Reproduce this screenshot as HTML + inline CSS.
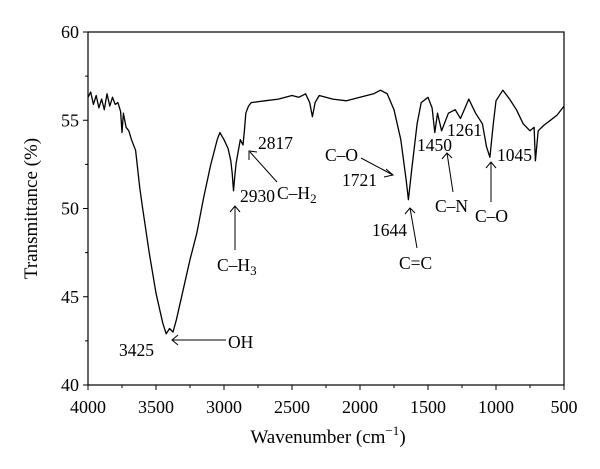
<!DOCTYPE html>
<html><head><meta charset="utf-8"><style>
body{margin:0;background:#fff}
svg{display:block;font-family:"Liberation Serif",serif}
</style></head><body>
<svg id="chart" width="600" height="469" viewBox="0 0 600 469" xmlns="http://www.w3.org/2000/svg">
<g id="axes"></g>
<path id="spectrum" fill="none" stroke="#000" stroke-width="1.3" stroke-linejoin="round"/>
<g id="ann" font-size="17.5" fill="#000">
<text x="258" y="149">2817</text>
<text x="240" y="202">2930</text>
<text x="277" y="199">C–H<tspan font-size="13" dy="4">2</tspan></text>
<line x1="277" y1="182" x2="250" y2="152" stroke="#000"/>
<polyline points="249,160 249,151 257,152" fill="none" stroke="#000"/>
<text x="217" y="271">C–H<tspan font-size="13" dy="4">3</tspan></text>
<line x1="235" y1="250" x2="235" y2="206" stroke="#000"/>
<polyline points="230,212 235,206 240,212" fill="none" stroke="#000"/>
<text x="228" y="348">OH</text>
<line x1="226" y1="340" x2="172" y2="340" stroke="#000"/>
<polyline points="178,335 172,340 178,345" fill="none" stroke="#000"/>
<text x="119" y="356">3425</text>
<text x="325" y="161">C–O</text>
<line x1="361" y1="158" x2="393" y2="175" stroke="#000"/>
<polyline points="386,169 393,175 384,177" fill="none" stroke="#000"/>
<text x="342" y="186">1721</text>
<text x="372" y="236">1644</text>
<line x1="417" y1="248" x2="410" y2="208" stroke="#000"/>
<polyline points="405,214 410,208 415,213" fill="none" stroke="#000"/>
<text x="399" y="269">C=C</text>
<text x="417" y="151">1450</text>
<text x="447" y="136">1261</text>
<text x="435" y="212">C–N</text>
<line x1="453" y1="192" x2="447" y2="153" stroke="#000"/>
<polyline points="442,159 447,153 452,158" fill="none" stroke="#000"/>
<text x="475" y="222">C–O</text>
<line x1="491" y1="202" x2="491" y2="162" stroke="#000"/>
<polyline points="486,168 491,162 496,168" fill="none" stroke="#000"/>
<text x="497" y="161">1045</text>
</g>
</svg>
<script>
const wavenumbers=[4000,3980,3960,3940,3920,3900,3880,3860,3840,3820,3800,3780,3760,3750,3740,3720,3700,3680,3650,3620,3600,3550,3500,3450,3425,3400,3375,3350,3300,3250,3200,3150,3100,3050,3030,3000,2970,2950,2940,2930,2920,2910,2880,2860,2850,2840,2820,2800,2700,2600,2500,2450,2400,2370,2350,2330,2300,2200,2100,2000,1900,1850,1800,1750,1700,1660,1644,1620,1580,1550,1500,1470,1450,1430,1400,1350,1300,1261,1200,1150,1100,1070,1045,1020,1000,950,900,850,800,750,720,710,690,650,600,550,500];
const transmittance=[56.3,56.6,55.9,56.4,55.7,56.2,55.6,56.5,55.8,56.3,55.9,56.0,55.5,54.3,55.4,54.6,54.4,53.9,53.3,51.2,50.1,47.5,45.2,43.5,42.9,43.2,43.0,43.7,45.4,47.1,48.6,50.6,52.4,53.9,54.3,53.9,53.4,52.7,52.0,51.0,51.9,52.6,53.9,53.6,54.4,55.4,55.8,56.0,56.1,56.2,56.4,56.3,56.5,56.0,55.2,56.0,56.4,56.2,56.1,56.3,56.5,56.7,56.5,55.6,53.9,51.6,50.5,52.2,54.8,56.0,56.3,55.7,54.3,55.4,54.4,55.4,55.6,55.1,56.2,55.4,54.8,53.5,52.9,54.8,56.1,56.7,56.2,55.6,54.8,54.4,54.6,52.7,54.4,54.7,55.0,55.3,55.8];
const xTicks=[4000,3500,3000,2500,2000,1500,1000,500];
const yTicks=[40,45,50,55,60];
const L=88,R=564,T=32,B=385;
const xs=w=>L+(4000-w)/3500*(R-L);
const ys=v=>B-(v-40)/20*(B-T);
const NS="http://www.w3.org/2000/svg";
const ax=document.getElementById('axes');
function mk(tag,attrs,parent){const e=document.createElementNS(NS,tag);for(const k in attrs)e.setAttribute(k,attrs[k]);(parent||ax).appendChild(e);return e;}
const frame=mk('rect',{x:L,y:T,width:R-L,height:B-T,fill:'none',stroke:'#000','stroke-width':1.2});


for(let w=4000;w>=500;w-=250){const major=(w%500===0);const t=mk('line',{x1:xs(w),x2:xs(w),y1:B,y2:B+(major?5:3),stroke:'#000'});

}
for(let v=40;v<=60;v+=2.5){const major=(v%5===0);const t=mk('line',{x1:L,x2:L-(major?5:3),y1:ys(v),y2:ys(v),stroke:'#000'});

}
xTicks.forEach(w=>{const t=mk('text',{x:xs(w),y:B+28,'text-anchor':'middle','font-size':18});t.textContent=w;

});
yTicks.forEach(v=>{const t=mk('text',{x:L-9,y:ys(v)+6,'text-anchor':'end','font-size':18});t.textContent=v;

});
const xt=mk('text',{x:(L+R)/2+2,y:443,'text-anchor':'middle','font-size':19});
xt.innerHTML='Wavenumber (cm<tspan font-size="13" dy="-8">−1</tspan><tspan dy="8">)</tspan>';


const yt=mk('text',{x:0,y:0,'text-anchor':'middle','font-size':19,transform:`translate(37,${(T+B)/2}) rotate(-90)`});
yt.textContent='Transmittance (%)';


document.getElementById('spectrum').setAttribute('d',wavenumbers.map((w,i)=>(i?'L':'M')+xs(w).toFixed(1)+','+ys(transmittance[i]).toFixed(1)).join(''));
</script>
</body></html>
